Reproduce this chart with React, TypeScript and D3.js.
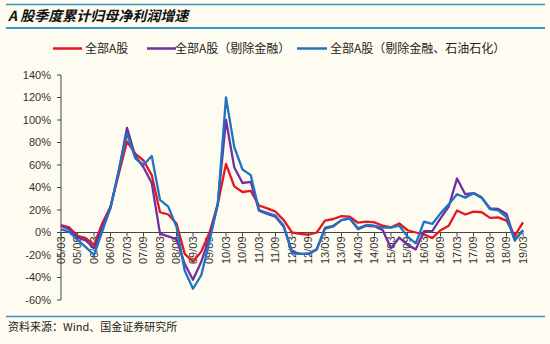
import React from "react";
import * as d3 from "d3";

const categories = [
  "05/03","05/06","05/09","05/12","06/03","06/06","06/09","06/12",
  "07/03","07/06","07/09","07/12","08/03","08/06","08/09","08/12",
  "09/03","09/06","09/09","09/12","10/03","10/06","10/09","10/12",
  "11/03","11/06","11/09","11/12","12/03","12/06","12/09","12/12",
  "13/03","13/06","13/09","13/12","14/03","14/06","14/09","14/12",
  "15/03","15/06","15/09","15/12","16/03","16/06","16/09","16/12",
  "17/03","17/06","17/09","17/12","18/03","18/06","18/09","18/12",
  "19/03"
];

const allA = [
  6.5, 4.5, -3, -5, -11, 8, 23, 52,
  81, 70, 64, 51, 18, 16, 8, -19,
  -26, -17, 0, 25, 61, 41, 36, 37,
  24, 21.5, 18.5, 11, 0, -1.3, -2, 0,
  10.5, 12, 14.5, 14, 8.7, 9.6, 9, 6,
  4.6, 8, 2, 0, -1.6, -5, 2, 6,
  19.5, 16, 18.5, 18, 13, 13.5, 10.5, -3,
  9
];

const exFin = [
  6, 3, -4.5, -7, -14, 5, 22, 55,
  93, 68, 58, 44, -1, -3.5, -6, -28,
  -42, -26, -4, 25, 100, 58, 44, 45,
  19.5, 16.5, 14, 5, -17, -19, -19, -15,
  3.5, 5.5, 11, 12.5, 3, 6, 5.5, 2,
  -14, -4.5, -11, -15, 1.3, 1.3, 12.5, 23,
  48, 34, 35, 31, 21.5, 21, 16.5, -6,
  1.7
];

const exFinOil = [
  3, 0.5, -6.5, -13, -20, 1, 22, 55,
  88, 66, 60, 68, 29, 23, 5, -34,
  -50, -38, -8, 25, 120, 76, 56, 51,
  20, 17.5, 15, 6, -18.5, -19, -19, -15,
  4.3, 6, 11, 12.6, 3.7, 6.7, 6, 4.3,
  4.3, 6, -3.7, -9.6, 9.6, 7.6, 17, 25,
  34, 31, 35, 31, 20.7, 19.6, 13.6, -7.3,
  2.2
];

const yTicks = [140, 120, 100, 80, 60, 40, 20, 0, -20, -40, -60];

const seriesNames = ["全部A股", "全部A股（剔除金融）", "全部A股（剔除金融、石油石化）"];
const seriesColors = ["#E5161D", "#7030A0", "#1F74C2"];
const seriesData = [allA, exFin, exFinOil];

const titleText = "A 股季度累计归母净利润增速";
const sourceText = "资料来源：Wind、国金证券研究所";

export default function App() {
  const W = 550, H = 344;
  const x0 = 61, x1 = 523;
  const x = d3.scaleLinear().domain([0, categories.length - 1]).range([x0, x1]);
  const y = d3.scaleLinear().domain([-60, 140]).range([300, 75]);
  const line = d3.line<number>().x((_, i) => x(i)).y((d) => y(d));
  const font = "'Liberation Sans', Arial, 'Noto Sans CJK SC', sans-serif";
  const cjk = "'Noto Sans CJK SC', sans-serif";
  const lineBlue = "#3898C6";
  const y0 = y(0);

  const legendItems = [
    { lx: 53, tx: 85 },
    { lx: 147, tx: 175 },
    { lx: 297, tx: 330 },
  ];

  return (
    <svg width={W} height={H} style={{ position: "absolute", left: 0, top: 0 }}>
      <rect x={0} y={0} width={W} height={H} fill="#FEFCF1" />
      {/* header */}
      <line x1={6} x2={545} y1={4.5} y2={4.5} stroke={lineBlue} strokeWidth={1.5} />
      <text x={8} y={21} fontSize={14} fontWeight="bold" fontStyle="italic" fill="#111" fontFamily={cjk}>
        {titleText}
      </text>
      <line x1={6} x2={545} y1={28} y2={28} stroke={lineBlue} strokeWidth={2} />

      {/* legend */}
      {legendItems.map((it, k) => (
        <g key={k}>
          <line x1={it.lx} x2={it.lx + (k === 2 ? 30 : 29)} y1={48.5} y2={48.5} stroke={seriesColors[k]} strokeWidth={2.5} />
          <text x={it.tx} y={52.5} fontSize={12} fill="#222" fontFamily={cjk}>{seriesNames[k]}</text>
        </g>
      ))}

      {/* y axis */}
      <line x1={x0} x2={x0} y1={y(140)} y2={y(-60)} stroke="#444" strokeWidth={1} />
      {yTicks.map((t) => (
        <g key={t}>
          <line x1={x0 - 4} x2={x0} y1={y(t)} y2={y(t)} stroke="#444" />
          <text x={51} y={y(t)} dy="0.35em" textAnchor="end" fontSize={11} fill="#333" fontFamily={font}>
            {t}%
          </text>
        </g>
      ))}

      {/* x axis at zero */}
      <line x1={x0} x2={x1} y1={y0} y2={y0} stroke="#444" strokeWidth={1} />
      {categories.map((c, i) =>
        i % 2 === 0 ? (
          <g key={c}>
            <line x1={x(i)} x2={x(i)} y1={y0} y2={y0 + 4} stroke="#444" />
            <text
              transform={`translate(${x(i)},${y0 + 4}) rotate(-90)`}
              textAnchor="end"
              dy="0.35em"
              fontSize={11}
              fill="#333"
              fontFamily={font}
            >
              {c}
            </text>
          </g>
        ) : null
      )}

      {/* series */}
      {seriesData.map((s, k) => (
        <path key={k} d={line(s) || ""} fill="none" stroke={seriesColors[k]} strokeWidth={2.3} strokeLinejoin="round" />
      ))}

      {/* footer */}
      <line x1={6} x2={545} y1={316.5} y2={316.5} stroke={lineBlue} strokeWidth={1.5} />
      <text x={8} y={331} fontSize={11} fill="#222" fontFamily={cjk}>{sourceText}</text>
    </svg>
  );
}
